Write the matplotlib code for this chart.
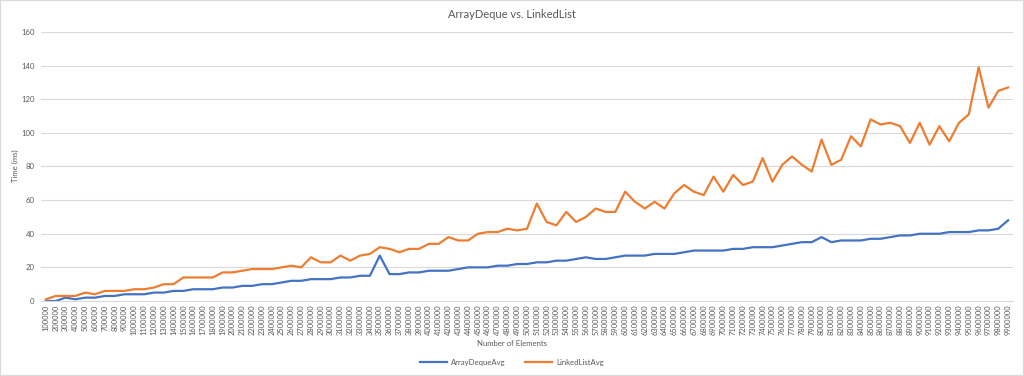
import numpy as np
import matplotlib
matplotlib.use('Agg')
import matplotlib.pyplot as plt
from matplotlib.patches import Rectangle

# 要素数 (100000 .. 9900000)
elements = [str(n) for n in range(100000, 10000000, 100000)]

array_deque_avg = [
    0, 0, 2, 1, 2, 2, 3, 3, 4, 4,
    4, 5, 5, 6, 6, 7, 7, 7, 8, 8,
    9, 9, 10, 10, 11, 12, 12, 13, 13, 13,
    14, 14, 15, 15, 27, 16, 16, 17, 17, 18,
    18, 18, 19, 20, 20, 20, 21, 21, 22, 22,
    23, 23, 24, 24, 25, 26, 25, 25, 26, 27,
    27, 27, 28, 28, 28, 29, 30, 30, 30, 30,
    31, 31, 32, 32, 32, 33, 34, 35, 35, 38,
    35, 36, 36, 36, 37, 37, 38, 39, 39, 40,
    40, 40, 41, 41, 41, 42, 42, 43, 48,
]

linked_list_avg = [
    1, 3, 3, 3, 5, 4, 6, 6, 6, 7,
    7, 8, 10, 10, 14, 14, 14, 14, 17, 17,
    18, 19, 19, 19, 20, 21, 20, 26, 23, 23,
    27, 24, 27, 28, 32, 31, 29, 31, 31, 34,
    34, 38, 36, 36, 40, 41, 41, 43, 42, 43,
    58, 47, 45, 53, 47, 50, 55, 53, 53, 65,
    59, 55, 59, 55, 64, 69, 65, 63, 74, 65,
    75, 69, 71, 85, 71, 81, 86, 81, 77, 96,
    81, 84, 98, 92, 108, 105, 106, 104, 94, 106,
    93, 104, 95, 106, 111, 139, 115, 125, 127,
]

y_ticks = [0, 20, 40, 60, 80, 100, 120, 140, 160]

TEXT = '#595959'
GRID = '#D9D9D9'
FONT = ['Lato', 'DejaVu Sans']


def main():
    plt.rcParams['font.family'] = FONT
    fig = plt.figure(figsize=(10.24, 3.76), dpi=100)
    ax = fig.add_axes([41 / 1024, 75 / 376, 972 / 1024, 269 / 376])

    x = np.arange(len(elements))
    ax.plot(x, array_deque_avg, color='#4472C4', lw=1.6, label='ArrayDequeAvg')
    ax.plot(x, linked_list_avg, color='#ED7D31', lw=1.6, label='LinkedListAvg')

    ax.set_xlim(-0.5, len(elements) - 0.5)
    ax.set_ylim(0, 160)
    ax.set_yticks(y_ticks)
    ax.set_xticks(x)
    ax.set_xticklabels(elements, rotation=90, fontsize=5.4, color=TEXT)
    ax.tick_params(axis='y', labelsize=5.6, colors=TEXT, length=0, pad=4.5)
    ax.tick_params(axis='x', length=0, pad=2.5)
    ax.grid(axis='y', color=GRID, lw=0.8)
    ax.set_axisbelow(True)
    for s in ['top', 'right', 'left']:
        ax.spines[s].set_visible(False)
    ax.spines['bottom'].set_color(GRID)
    ax.spines['bottom'].set_linewidth(0.8)

    # 軸ラベルとタイトル
    fig.text(15 / 1024, 1 - 166 / 376, 'Time (ms)', rotation=90, ha='center',
             va='center', fontsize=5.6, color=TEXT)
    fig.text(0.5, 1 - 343 / 376, 'Number of Elements', ha='center',
             va='center', fontsize=5.6, color=TEXT)
    fig.text(0.5, 1 - 15 / 376, 'ArrayDeque vs. LinkedList', ha='center',
             va='center', fontsize=8, color=TEXT)

    fig.legend(loc='center', bbox_to_anchor=(0.5, 1 - 362 / 376), ncol=2,
               frameon=False, fontsize=5.6, labelcolor=TEXT,
               handlelength=3.5, columnspacing=2.5, handletextpad=0.5)

    fig.patches.append(Rectangle((0, 0), 1, 1, transform=fig.transFigure,
                                 fill=False, edgecolor='#D9D9D9', lw=1.5))

    fig.savefig('out.png', dpi=100)


if __name__ == '__main__':
    main()
